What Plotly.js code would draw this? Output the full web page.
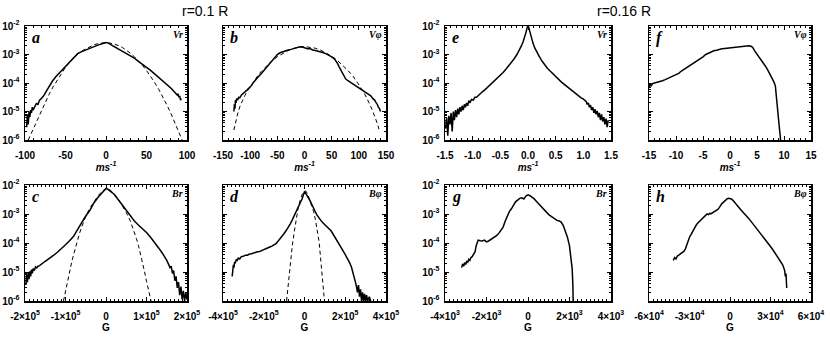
<!DOCTYPE html>
<html>
<head>
<meta charset="utf-8">
<script src="https://cdn.plot.ly/plotly-3.0.1.min.js"></script>
<style>
  html, body { margin: 0; padding: 0; background: #fff; }
  #chart { width: 830px; height: 340px; }
</style>
</head>
<body>
<div id="chart"></div>
<script>
// values; y values are log10 of the PDF
const aVrX = [-98, -97, -96, -95, -94, -93, -92, -91, -90, -88, -86, -84, -82, -80, -77, -74, -70, -66, -62, -58, -54, -50, -45, -40, -35, -30, -25, -20, -15, -10, -5, 0, 3, 6, 10, 15, 20, 25, 30, 35, 40, 45, 50, 55, 60, 65, 70, 74, 78, 81, 84, 86, 88, 89, 90, 91, 92, 93];
const aVrLog = [-5.55, -5.1, -5.45, -5.0, -5.2, -4.95, -5.05, -4.85, -4.95, -4.8, -4.72, -4.75, -4.6, -4.55, -4.45, -4.3, -4.1, -3.93, -3.78, -3.66, -3.55, -3.42, -3.25, -3.1, -2.97, -2.9, -2.84, -2.77, -2.72, -2.67, -2.62, -2.58, -2.6, -2.66, -2.72, -2.8, -2.88, -2.96, -3.04, -3.13, -3.24, -3.34, -3.45, -3.56, -3.68, -3.8, -3.93, -4.04, -4.12, -4.2, -4.3, -4.35, -4.42, -4.38, -4.5, -4.45, -4.6, -4.55];
const aFitX = [-96, -92, -88, -84, -80, -75, -70, -65, -60, -55, -50, -45, -40, -35, -30, -25, -20, -15, -10, -5, 0, 5, 10, 15, 20, 25, 30, 35, 40, 45, 50, 55, 60, 65, 70, 75, 80, 85, 90, 94];
const aFitLog = [-6.0, -5.75, -5.5, -5.2, -4.95, -4.65, -4.38, -4.12, -3.88, -3.66, -3.45, -3.27, -3.12, -2.98, -2.88, -2.8, -2.72, -2.66, -2.62, -2.59, -2.58, -2.6, -2.63, -2.68, -2.75, -2.84, -2.95, -3.08, -3.22, -3.38, -3.56, -3.76, -3.98, -4.22, -4.48, -4.76, -5.06, -5.38, -5.72, -6.0];

const bVpX = [-130, -129, -128, -127, -126, -125, -123, -121, -119, -116, -113, -110, -106, -102, -98, -94, -90, -85, -80, -75, -70, -65, -60, -55, -50, -45, -40, -35, -30, -25, -20, -15, -10, -5, 0, 5, 10, 15, 20, 25, 30, 35, 40, 45, 50, 55, 58, 61, 64, 67, 70, 73, 76, 80, 85, 90, 95, 100, 105, 110, 114, 118, 122, 126, 129, 132, 134, 136, 138, 140];
const bVpLog = [-5.0, -4.75, -4.9, -4.6, -4.7, -4.55, -4.6, -4.5, -4.52, -4.42, -4.38, -4.32, -4.25, -4.18, -4.1, -3.98, -3.88, -3.78, -3.68, -3.56, -3.46, -3.35, -3.22, -3.1, -3.0, -2.94, -2.9, -2.86, -2.84, -2.82, -2.79, -2.76, -2.74, -2.73, -2.76, -2.8, -2.79, -2.84, -2.86, -2.88, -2.92, -2.94, -2.98, -3.02, -3.08, -3.15, -3.22, -3.32, -3.44, -3.56, -3.68, -3.78, -3.86, -3.92, -3.98, -4.05, -4.1, -4.18, -4.24, -4.3, -4.34, -4.4, -4.45, -4.55, -4.6, -4.7, -4.75, -4.85, -4.9, -5.0];
const bFitX = [-130, -126, -122, -118, -114, -110, -105, -100, -95, -90, -80, -70, -60, -50, -40, -30, -20, -10, 0, 10, 20, 30, 40, 50, 60, 70, 80, 90, 100, 105, 110, 115, 120, 125, 130, 134, 137];
const bFitLog = [-5.65, -5.3, -5.0, -4.78, -4.6, -4.45, -4.28, -4.12, -3.98, -3.85, -3.6, -3.4, -3.22, -3.08, -2.96, -2.86, -2.79, -2.74, -2.72, -2.74, -2.78, -2.85, -2.95, -3.06, -3.2, -3.37, -3.56, -3.78, -4.04, -4.2, -4.36, -4.54, -4.74, -4.96, -5.2, -5.42, -5.62];

const eVrX = [-1.49, -1.47, -1.45, -1.43, -1.41, -1.39, -1.37, -1.35, -1.33, -1.31, -1.29, -1.27, -1.25, -1.23, -1.21, -1.19, -1.17, -1.15, -1.13, -1.11, -1.09, -1.07, -1.05, -1.02, -0.99, -0.96, -0.93, -0.9, -0.86, -0.82, -0.78, -0.74, -0.7, -0.65, -0.6, -0.55, -0.5, -0.45, -0.4, -0.35, -0.3, -0.25, -0.2, -0.16, -0.12, -0.09, -0.06, -0.04, -0.02, 0, 0.02, 0.04, 0.06, 0.09, 0.12, 0.16, 0.2, 0.25, 0.3, 0.35, 0.4, 0.45, 0.5, 0.55, 0.6, 0.65, 0.7, 0.74, 0.78, 0.82, 0.86, 0.9, 0.93, 0.96, 0.99, 1.02, 1.05, 1.07, 1.09, 1.11, 1.13, 1.15, 1.17, 1.19, 1.21, 1.23, 1.25, 1.27, 1.29, 1.31, 1.33, 1.35, 1.37, 1.39, 1.41, 1.43, 1.45];
const eVrLog = [-5.6, -5.2, -5.85, -5.15, -5.45, -5.05, -5.7, -5.0, -5.3, -4.95, -5.2, -4.9, -5.1, -4.85, -5.0, -4.8, -4.95, -4.75, -4.85, -4.7, -4.8, -4.62, -4.7, -4.58, -4.6, -4.5, -4.5, -4.44, -4.38, -4.3, -4.24, -4.17, -4.1, -4.01, -3.92, -3.83, -3.73, -3.63, -3.52, -3.41, -3.28, -3.15, -3.0, -2.86, -2.7, -2.56, -2.4, -2.25, -2.1, -1.95, -2.1, -2.26, -2.42, -2.6, -2.76, -2.92, -3.06, -3.22, -3.36, -3.48, -3.58, -3.68, -3.78, -3.87, -3.96, -4.04, -4.12, -4.18, -4.24, -4.3, -4.36, -4.42, -4.46, -4.52, -4.55, -4.62, -4.65, -4.75, -4.7, -4.85, -4.78, -4.95, -4.85, -5.05, -4.92, -5.1, -4.98, -5.2, -5.05, -5.3, -5.1, -5.35, -5.2, -5.45, -5.25, -5.55, -5.3];

const fVpX = [-15, -14.8, -14.6, -14.3, -14, -13.5, -13, -12.5, -12, -11.5, -11, -10.5, -10, -9.5, -9, -8.5, -8, -7.5, -7, -6.5, -6, -5.5, -5, -4.5, -4, -3.5, -3, -2.5, -2, -1.5, -1, -0.5, 0, 0.5, 1, 1.5, 2, 2.5, 3, 3.5, 4, 4.3, 4.6, 5, 5.4, 5.8, 6.2, 6.6, 7, 7.4, 7.8, 8.1, 8.4, 8.6, 8.75, 9.0, 9.2, 9.4];
const fVpLog = [-4.18, -4.05, -4.1, -4.02, -4.0, -3.98, -3.96, -3.92, -3.88, -3.84, -3.8, -3.76, -3.72, -3.66, -3.58, -3.52, -3.45, -3.38, -3.32, -3.27, -3.2, -3.14, -3.08, -3.0, -2.95, -2.9, -2.87, -2.85, -2.82, -2.8, -2.79, -2.78, -2.76, -2.75, -2.74, -2.72, -2.71, -2.7, -2.7, -2.69, -2.72, -2.78, -2.88, -2.98, -3.08, -3.18, -3.3, -3.42, -3.55, -3.68, -3.82, -3.95, -4.1, -4.4, -4.8, -5.3, -5.7, -6.05];

const cBrX = [-198000, -196000, -194000, -192000, -190000, -188000, -186000, -184000, -182000, -180000, -177000, -174000, -171000, -168000, -164000, -160000, -155000, -150000, -145000, -140000, -135000, -130000, -120000, -110000, -100000, -90000, -80000, -70000, -60000, -50000, -40000, -30000, -20000, -10000, -5000, 0, 5000, 10000, 20000, 30000, 40000, 50000, 60000, 70000, 80000, 90000, 100000, 110000, 120000, 130000, 140000, 145000, 150000, 154000, 158000, 161000, 164000, 167000, 170000, 173000, 176000, 179000, 182000, 185000, 188000, 191000, 194000, 197000, 200000];
const cBrLog = [-5.45, -5.1, -5.35, -5.0, -5.25, -4.98, -5.15, -4.92, -5.05, -4.88, -4.95, -4.82, -4.86, -4.8, -4.78, -4.73, -4.67, -4.63, -4.58, -4.52, -4.48, -4.43, -4.32, -4.2, -4.06, -3.92, -3.77, -3.53, -3.29, -3.07, -2.88, -2.62, -2.43, -2.26, -2.18, -2.12, -2.15, -2.2, -2.32, -2.5, -2.69, -2.88, -3.07, -3.24, -3.38, -3.5, -3.64, -3.8, -3.97, -4.17, -4.37, -4.47, -4.6, -4.72, -4.85, -4.8, -5.05, -4.95, -5.3, -5.15, -5.55, -5.35, -5.8, -5.5, -5.95, -5.65, -6.0, -5.7, -5.95];
const cFitX = [-105000, -100000, -95000, -90000, -85000, -80000, -75000, -70000, -65000, -60000, -55000, -50000, -40000, -30000, -20000, -10000, 0, 10000, 20000, 30000, 40000, 50000, 60000, 65000, 70000, 75000, 80000, 85000, 90000, 95000, 100000, 105000, 110000, 113000];
const cFitLog = [-6.0, -5.65, -5.3, -4.98, -4.68, -4.4, -4.13, -3.88, -3.65, -3.45, -3.26, -3.08, -2.8, -2.57, -2.38, -2.22, -2.12, -2.17, -2.3, -2.48, -2.7, -2.95, -3.24, -3.42, -3.62, -3.84, -4.08, -4.36, -4.66, -4.98, -5.32, -5.65, -5.95, -6.1];

const dBpX = [-355000, -353000, -351000, -349000, -346000, -343000, -340000, -335000, -330000, -325000, -318000, -310000, -300000, -290000, -280000, -270000, -260000, -250000, -240000, -230000, -220000, -210000, -200000, -190000, -180000, -170000, -160000, -150000, -140000, -130000, -120000, -110000, -100000, -90000, -80000, -70000, -60000, -50000, -40000, -30000, -20000, -10000, 0, 10000, 20000, 30000, 40000, 50000, 60000, 70000, 80000, 90000, 100000, 110000, 120000, 130000, 140000, 150000, 160000, 170000, 180000, 190000, 200000, 210000, 220000, 230000, 240000, 245000, 250000, 255000, 260000, 265000, 270000, 275000, 280000, 285000, 290000, 295000, 300000, 305000, 310000, 318000, 325000];
const dBpLog = [-5.15, -4.85, -5.0, -4.75, -4.85, -4.65, -4.7, -4.58, -4.6, -4.52, -4.55, -4.47, -4.46, -4.42, -4.42, -4.38, -4.37, -4.34, -4.33, -4.3, -4.29, -4.25, -4.23, -4.2, -4.18, -4.14, -4.11, -4.07, -4.02, -3.94, -3.86, -3.77, -3.67, -3.57, -3.47, -3.34, -3.2, -3.06, -2.92, -2.78, -2.64, -2.45, -2.22, -2.32, -2.45, -2.58, -2.75, -2.88, -3.02, -3.13, -3.22, -3.3, -3.37, -3.44, -3.5, -3.58, -3.69, -3.8, -3.93, -4.05, -4.16, -4.28, -4.4, -4.52, -4.66, -4.82, -5.05, -5.2, -5.35, -5.5, -5.7, -5.45, -5.85, -5.6, -6.0, -5.7, -6.0, -5.75, -6.0, -5.8, -6.0, -5.85, -6.0];
const dFitX = [-88000, -82000, -75000, -68000, -60000, -50000, -42000, -30000, -20000, -10000, 0, 5000, 15000, 25000, 35000, 45000, 53000, 62000, 72000, 78000, 85000, 92000, 98000];
const dFitLog = [-6.0, -5.55, -5.0, -4.5, -4.1, -3.6, -3.2, -2.75, -2.5, -2.3, -2.22, -2.2, -2.3, -2.5, -2.7, -2.92, -3.18, -3.5, -3.97, -4.45, -4.99, -5.5, -6.0];

const gBrX = [-3200, -3150, -3100, -3050, -3000, -2950, -2900, -2850, -2800, -2750, -2700, -2650, -2600, -2550, -2500, -2450, -2400, -2300, -2200, -2100, -2000, -1900, -1800, -1700, -1600, -1500, -1400, -1300, -1200, -1100, -1000, -900, -800, -700, -600, -500, -400, -300, -200, -100, 0, 100, 200, 300, 400, 500, 600, 700, 800, 900, 1000, 1100, 1200, 1300, 1400, 1500, 1600, 1700, 1800, 1900, 2000, 2050, 2100, 2130, 2160, 2180];
const gBrLog = [-4.85, -4.72, -4.8, -4.68, -4.74, -4.62, -4.66, -4.56, -4.6, -4.5, -4.48, -4.42, -4.4, -4.3, -4.1, -3.95, -3.9, -3.92, -3.93, -3.9, -3.96, -3.93, -3.88, -3.86, -3.8, -3.74, -3.66, -3.57, -3.45, -3.25, -3.05, -2.92, -2.82, -2.68, -2.58, -2.52, -2.46, -2.44, -2.48, -2.38, -2.34, -2.37, -2.42, -2.48, -2.56, -2.64, -2.72, -2.8, -2.88, -2.95, -3.02, -3.07, -3.12, -3.18, -3.22, -3.24, -3.28, -3.4, -3.58, -3.8, -4.1, -4.35, -4.6, -4.9, -5.4, -6.1];

const hBpX = [-42000, -41000, -40000, -39000, -38000, -37000, -36000, -35000, -34000, -33000, -32000, -31000, -30000, -29000, -28000, -27000, -26000, -25000, -24000, -23000, -22000, -21000, -20000, -19000, -18000, -17000, -16000, -15000, -14000, -13000, -12000, -11000, -10000, -9000, -8000, -7000, -6000, -5000, -4000, -3000, -2000, -1000, 0, 1000, 2000, 3000, 4000, 5000, 6000, 8000, 10000, 12000, 14000, 16000, 18000, 20000, 22000, 24000, 26000, 28000, 30000, 32000, 34000, 36000, 37000, 38000, 39000, 40000, 40500, 41000, 41500, 42000];
const hBpLog = [-4.6, -4.5, -4.55, -4.45, -4.42, -4.38, -4.35, -4.3, -4.28, -4.2, -4.05, -3.9, -3.8, -3.72, -3.62, -3.52, -3.45, -3.38, -3.32, -3.27, -3.22, -3.2, -3.14, -3.1, -3.05, -3.0, -3.02, -2.98, -2.99, -2.96, -2.93, -2.91, -2.88, -2.84, -2.78, -2.7, -2.64, -2.6, -2.55, -2.49, -2.47, -2.46, -2.47, -2.48, -2.52, -2.58, -2.65, -2.7, -2.76, -2.85, -2.96, -3.05, -3.16, -3.28, -3.4, -3.5, -3.62, -3.75, -3.85, -3.96, -4.12, -4.25, -4.4, -4.52, -4.6, -4.66, -4.75, -4.88, -4.95, -5.15, -5.05, -5.55];

const pdfTicks = [1e-6, 1e-5, 1e-4, 1e-3, 1e-2];
const pdfTickText = ['10<sup>-6</sup>', '10<sup>-5</sup>', '10<sup>-4</sup>', '10<sup>-3</sup>', '10<sup>-2</sup>'];

const toPdf = (logs) => logs.map((v) => Math.pow(10, v));

const cols = [[25, 187], [223, 386], [445, 611], [649, 811]];
const rows = [[26, 140], [185, 301]];
const W = 830, H = 340;

const tickFont = { family: 'Liberation Sans, Arial, sans-serif', size: 10, color: '#000', weight: 'bold' };

function xAxis(col, row, range, tickvals, ticktext, minor, title) {
  return {
    domain: [cols[col][0] / W, cols[col][1] / W],
    anchor: 'y' + (row * 4 + col + 1 === 1 ? '' : row * 4 + col + 1),
    range, tickmode: 'array', tickvals, ticktext,
    showline: true, linecolor: '#000', linewidth: 1.5, mirror: 'allticks',
    ticks: 'inside', ticklen: 4, tickwidth: 1, tickcolor: '#000',
    minor: { dtick: minor, ticks: 'inside', ticklen: 2, tickcolor: '#000' },
    showgrid: false, zeroline: false, tickfont: tickFont, ticklabelstandoff: 5,
    title: { text: title, standoff: 3, font: { family: 'Liberation Sans, Arial, sans-serif', size: 10, color: '#000', style: row === 0 ? 'italic' : 'normal', weight: 'bold' } },
  };
}

function yAxis(col, row, showLabels) {
  return {
    domain: [1 - rows[row][1] / H, 1 - rows[row][0] / H],
    anchor: 'x' + (row * 4 + col + 1 === 1 ? '' : row * 4 + col + 1),
    type: 'log', range: [-6, -2], tickmode: 'array', tickvals: pdfTicks, ticktext: pdfTickText,
    showticklabels: showLabels,
    showline: true, linecolor: '#000', linewidth: 1.5, mirror: 'allticks',
    ticks: 'inside', ticklen: 4, tickwidth: 1, tickcolor: '#000',
    minor: { dtick: 'D1', ticks: 'inside', ticklen: 2, tickcolor: '#000' },
    showgrid: false, zeroline: false, tickfont: tickFont, ticklabelstandoff: 2,
  };
}

function solid(x, logs, n) {
  return { type: 'scatter', mode: 'lines', x, y: toPdf(logs), xaxis: 'x' + n, yaxis: 'y' + n,
    line: { color: '#000', width: 1.5 }, showlegend: false, hoverinfo: 'skip' };
}
function dashed(x, logs, n) {
  return { type: 'scatter', mode: 'lines', x, y: toPdf(logs), xaxis: 'x' + n, yaxis: 'y' + n,
    line: { color: '#000', width: 1, dash: '4px,3px' }, showlegend: false, hoverinfo: 'skip' };
}

const data = [
  solid(aVrX, aVrLog, ''), dashed(aFitX, aFitLog, ''),
  solid(bVpX, bVpLog, 2), dashed(bFitX, bFitLog, 2),
  solid(eVrX, eVrLog, 3),
  solid(fVpX, fVpLog, 4),
  solid(cBrX, cBrLog, 5), dashed(cFitX, cFitLog, 5),
  solid(dBpX, dBpLog, 6), dashed(dFitX, dFitLog, 6),
  solid(gBrX, gBrLog, 7),
  solid(hBpX, hBpLog, 8),
];

const vel = 'ms<sup>-1</sup>';
const layout = {
  width: W, height: H,
  margin: { l: 0, r: 0, t: 0, b: 0 },
  paper_bgcolor: '#fff', plot_bgcolor: '#fff',
  xaxis: xAxis(0, 0, [-100, 100], [-100, -50, 0, 50, 100], ['-100', '-50', '0', '50', '100'], 10, vel),
  xaxis2: xAxis(1, 0, [-150, 150], [-150, -100, -50, 0, 50, 100, 150], ['-150', '-100', '-50', '0', '50', '100', '150'], 10, vel),
  xaxis3: xAxis(2, 0, [-1.5, 1.5], [-1.5, -1, -0.5, 0, 0.5, 1, 1.5], ['-1.5', '-1.0', '-0.5', '0.0', '0.5', '1.0', '1.5'], 0.1, vel),
  xaxis4: xAxis(3, 0, [-15, 15], [-15, -10, -5, 0, 5, 10, 15], ['-15', '-10', '-5', '0', '5', '10', '15'], 1, vel),
  xaxis5: xAxis(0, 1, [-200000, 200000], [-200000, -100000, 0, 100000, 200000], ['-2×10<sup>5</sup>', '-1×10<sup>5</sup>', '0', '1×10<sup>5</sup>', '2×10<sup>5</sup>'], 10000, 'G'),
  xaxis6: xAxis(1, 1, [-400000, 400000], [-400000, -200000, 0, 200000, 400000], ['-4×10<sup>5</sup>', '-2×10<sup>5</sup>', '0', '2×10<sup>5</sup>', '4×10<sup>5</sup>'], 20000, 'G'),
  xaxis7: xAxis(2, 1, [-4000, 4000], [-4000, -2000, 0, 2000, 4000], ['-4×10<sup>3</sup>', '-2×10<sup>3</sup>', '0', '2×10<sup>3</sup>', '4×10<sup>3</sup>'], 200, 'G'),
  xaxis8: xAxis(3, 1, [-60000, 60000], [-60000, -30000, 0, 30000, 60000], ['-6×10<sup>4</sup>', '-3×10<sup>4</sup>', '0', '3×10<sup>4</sup>', '6×10<sup>4</sup>'], 3000, 'G'),
  yaxis: yAxis(0, 0, true),
  yaxis2: yAxis(1, 0, false),
  yaxis3: yAxis(2, 0, true),
  yaxis4: yAxis(3, 0, false),
  yaxis5: yAxis(0, 1, true),
  yaxis6: yAxis(1, 1, false),
  yaxis7: yAxis(2, 1, true),
  yaxis8: yAxis(3, 1, false),
  annotations: [],
};

const panelLetters = ['a', 'b', 'e', 'f', 'c', 'd', 'g', 'h'];
const panelVars = ['Vr', 'Vφ', 'Vr', 'Vφ', 'Br', 'Bφ', 'Br', 'Bφ'];
panelLetters.forEach((letter, i) => {
  const s = i === 0 ? '' : i + 1;
  layout.annotations.push({
    xref: 'x' + s + ' domain', yref: 'y' + s + ' domain', x: 0.03, y: 0.99,
    xanchor: 'left', yanchor: 'top', showarrow: false, text: letter,
    font: { family: 'Liberation Serif, Times New Roman, serif', size: 16, color: '#000', style: 'italic', weight: 'bold' },
  });
  layout.annotations.push({
    xref: 'x' + s + ' domain', yref: 'y' + s + ' domain', x: 0.99, y: 0.99,
    xanchor: 'right', yanchor: 'top', showarrow: false, text: panelVars[i],
    font: { family: 'Liberation Serif, Times New Roman, serif', size: 10, color: '#000', style: 'italic', weight: 'bold' },
  });
});
layout.annotations.push(
  { xref: 'paper', yref: 'paper', x: 205 / W, y: 1 - 11 / H, xanchor: 'center', yanchor: 'middle',
    showarrow: false, text: 'r=0.1 R',
    font: { family: 'Liberation Sans, Arial, sans-serif', size: 14, color: '#000' } },
  { xref: 'paper', yref: 'paper', x: 624 / W, y: 1 - 11 / H, xanchor: 'center', yanchor: 'middle',
    showarrow: false, text: 'r=0.16 R',
    font: { family: 'Liberation Sans, Arial, sans-serif', size: 14, color: '#000' } }
);

Plotly.newPlot('chart', data, layout, { staticPlot: true, displayModeBar: false });
</script>
</body>
</html>
